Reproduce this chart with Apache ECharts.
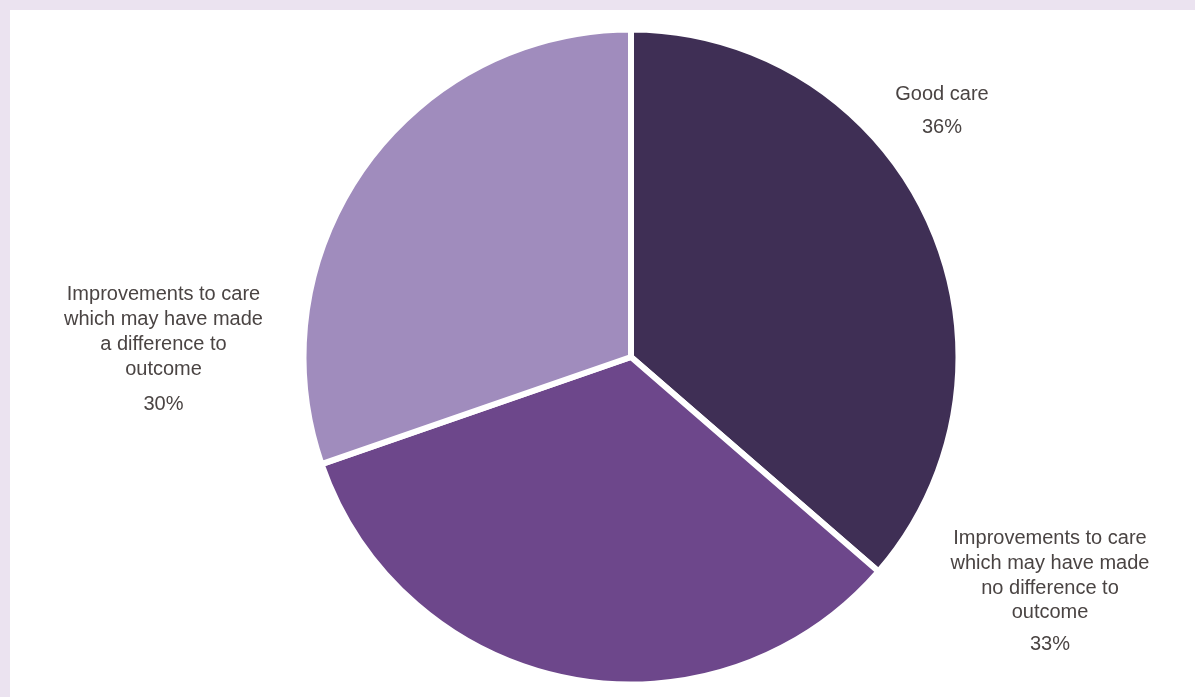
<!DOCTYPE html>
<html>
<head>
<meta charset="utf-8">
<script src="https://cdn.jsdelivr.net/npm/echarts@6/dist/echarts.min.js"></script>
<style>
html,body{margin:0;padding:0;background:#ebe3f0;width:1195px;height:697px;overflow:hidden;}
#chart{position:absolute;left:10px;top:10px;width:1185px;height:687px;background:#ffffff;}
</style>
</head>
<body>
<div id="chart"></div>
<script>
const categories = [
  "Good care",
  "Improvements to care which may have made no difference to outcome",
  "Improvements to care which may have made a difference to outcome"
];
const values = [36, 33, 30];
const colors = ["#3f2f55", "#6d478b", "#a08cbd"];

function wrap(text, maxChars) {
  const words = text.split(' ');
  const lines = [];
  let cur = '';
  words.forEach(w => {
    const t = cur ? cur + ' ' + w : w;
    if (t.length > maxChars && cur) { lines.push(cur); cur = w; } else { cur = t; }
  });
  if (cur) lines.push(cur);
  return lines;
}

const labelPos = [
  {x: 932, y: 72.5},
  {x: 1040, y: 516},
  {x: 153.5, y: 272.5}
];
const pctStyle = ['p', 'p', 'q'];

const chart = echarts.init(document.getElementById('chart'), null, {renderer: 'canvas'});
chart.setOption({
  animation: false,
  series: [{
    type: 'pie',
    center: [621, 347],
    radius: 327.5,
    startAngle: 90,
    clockwise: true,
    data: categories.map((c, i) => ({
      name: c,
      value: values[i],
      itemStyle: {color: colors[i]}
    })),
    itemStyle: {borderColor: '#ffffff', borderWidth: 6},
    emphasis: {disabled: true},
    labelLine: {show: false},
    label: {
      show: true,
      position: 'outside',
      align: 'center',
      fontFamily: 'Liberation Sans, Arial, sans-serif',
      fontSize: 20,
      color: '#4a4443',
      formatter: function (p) {
        const lines = wrap(p.name, 20).map(l => '{n|' + l + '}');
        return lines.join('\n') + '\n{' + pctStyle[p.dataIndex] + '|' + p.value + '%}';
      },
      rich: {
        n: {fontFamily: 'Liberation Sans, Arial, sans-serif', fontSize: 20, color: '#4a4443', lineHeight: 24.8, align: 'center'},
        p: {fontFamily: 'Liberation Sans, Arial, sans-serif', fontSize: 20, color: '#4a4443', lineHeight: 39.5, align: 'center'},
        q: {fontFamily: 'Liberation Sans, Arial, sans-serif', fontSize: 20, color: '#4a4443', lineHeight: 46, align: 'center'}
      }
    },
    labelLayout: function (params) {
      const lp = labelPos[params.dataIndex];
      return {x: lp.x, y: lp.y, align: 'center', verticalAlign: 'top'};
    }
  }]
});
</script>
</body>
</html>
